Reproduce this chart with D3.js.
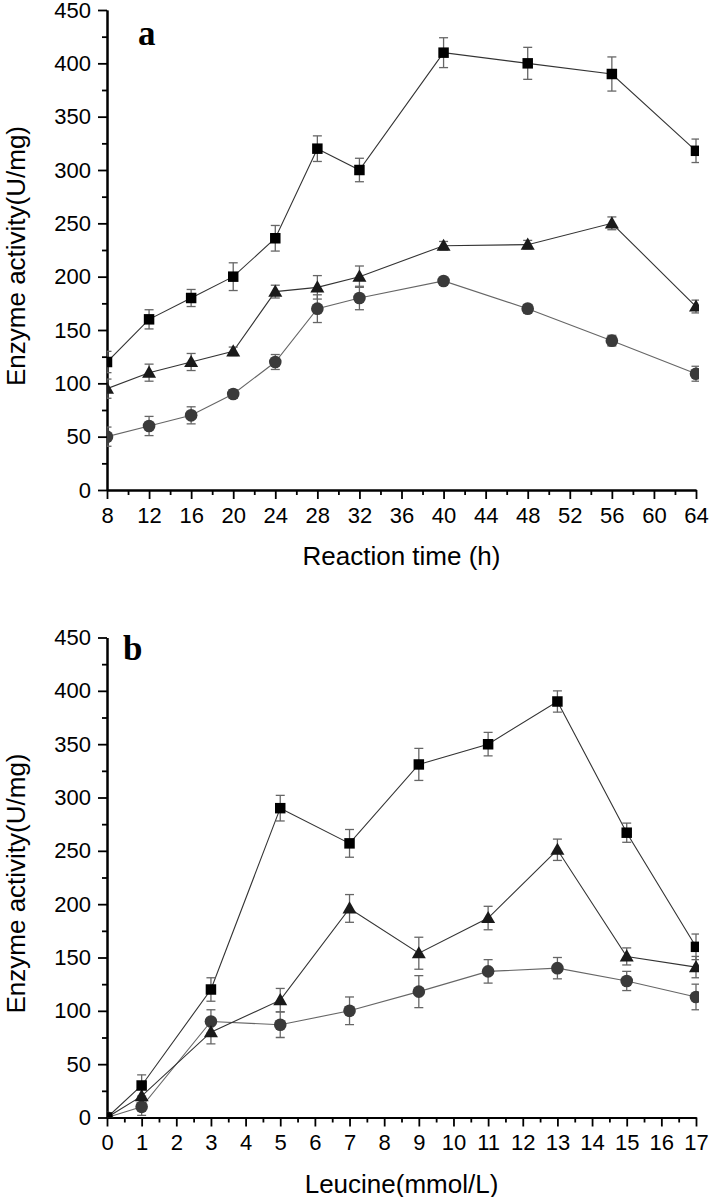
<!DOCTYPE html>
<html>
<head>
<meta charset="utf-8">
<script src="https://cdn.jsdelivr.net/npm/d3@7"></script>
<style>
  html, body { margin: 0; padding: 0; background: #fff; }
  svg { display: block; }
</style>
</head>
<body>
<svg id="chart" width="709" height="1197"></svg>
<script>
// ---------- Data ----------
// Panel a: reaction time (h)
const timeA = [8, 12, 16, 20, 24, 28, 32, 40, 48, 56, 64];
const squareA = [120, 160, 180, 200, 236, 320, 300, 410, 400, 390, 318];
const squareAErr = [10, 9, 8, 13, 12, 12, 11, 14, 15, 16, 11];
const triangleA = [95, 110, 120, 130, 186, 190, 200, 229, 230, 250, 172];
const triangleAErr = [9, 8, 8, 4, 6, 11, 10, 4, 4, 6, 6];
const circleA = [50, 60, 70, 90, 120, 170, 180, 196, 170, 140, 109];
const circleAErr = [9, 9, 8, 4, 7, 13, 11, 3, 4, 5, 7];
const ticksXA = [8, 12, 16, 20, 24, 28, 32, 36, 40, 44, 48, 52, 56, 60, 64];

// Panel b: leucine (mmol/L)
const leucineB = [0, 1, 3, 5, 7, 9, 11, 13, 15, 17];
const squareB = [0, 30, 120, 290, 257, 331, 350, 390, 267, 160];
const squareBErr = [0, 10, 11, 12, 13, 15, 11, 10, 9, 12];
const triangleB = [0, 20, 80, 110, 196, 154, 187, 251, 151, 141];
const triangleBErr = [0, 8, 11, 11, 13, 15, 11, 10, 8, 10];
const circleB = [0, 10, 90, 87, 100, 118, 137, 140, 128, 113];
const circleBErr = [0, 8, 11, 12, 13, 15, 11, 10, 9, 12];
const ticksXB = [0, 1, 2, 3, 4, 5, 6, 7, 8, 9, 10, 11, 12, 13, 14, 15, 16, 17];

const ticksY = [0, 50, 100, 150, 200, 250, 300, 350, 400, 450];
const yTitle = "Enzyme activity(U/mg)";

// ---------- Drawing ----------
const svg = d3.select("#chart");
const FONT = "'Liberation Sans', Arial, sans-serif";

function drawPanel(cfg) {
  const g = svg.append("g");
  const x = d3.scaleLinear().domain(cfg.xDomain).range([107, 696]);
  const y = d3.scaleLinear().domain([0, 450]).range([cfg.y0, cfg.y0 - 480]);

  const clipId = "clip-" + cfg.label;
  svg.append("clipPath").attr("id", clipId)
    .append("rect")
    .attr("x", x(cfg.xDomain[0]))
    .attr("y", y(450) - 20)
    .attr("width", 699 - x(cfg.xDomain[0]))
    .attr("height", y(0) - y(450) + 20);

  // Axes
  const minorY = d3.range(25, 450, 50);
  const yMinor = g.append("g").attr("transform", `translate(${x(cfg.xDomain[0])},0)`)
    .call(d3.axisLeft(y).tickValues(minorY).tickSize(5).tickSizeOuter(0).tickFormat(""));
  const yMajor = g.append("g").attr("transform", `translate(${x(cfg.xDomain[0])},0)`)
    .call(d3.axisLeft(y).tickValues(ticksY).tickSize(9).tickSizeOuter(0).tickPadding(7));

  const xMinor = g.append("g").attr("transform", `translate(0,${y(0)})`)
    .call(d3.axisBottom(x).tickValues(cfg.minorX).tickSize(5).tickSizeOuter(0).tickFormat(""));
  const xMajor = g.append("g").attr("transform", `translate(0,${y(0)})`)
    .call(d3.axisBottom(x).tickValues(cfg.ticksX).tickSize(9).tickSizeOuter(0).tickPadding(8));

  [yMinor, yMajor, xMinor, xMajor].forEach(a => {
    a.select(".domain").attr("stroke", "#000").attr("stroke-width", 2);
    a.selectAll(".tick line").attr("stroke", "#000").attr("stroke-width", 1.8);
    a.selectAll("text").attr("font-family", FONT).attr("font-size", 22).attr("fill", "#000");
  });

  // Titles
  g.append("text")
    .attr("x", 401.5).attr("y", y(0) + 75)
    .attr("text-anchor", "middle")
    .attr("font-family", FONT).attr("font-size", 26).attr("fill", "#000")
    .text(cfg.xTitle);
  g.append("text")
    .attr("transform", `translate(25,${y(225) + 6}) rotate(-90)`)
    .attr("text-anchor", "middle")
    .attr("font-family", FONT).attr("font-size", 26).attr("fill", "#000")
    .text(yTitle);

  // Panel label
  g.append("text")
    .attr("x", cfg.labelX).attr("y", y(450) + cfg.labelDy)
    .attr("font-family", "'Liberation Serif', 'Times New Roman', serif")
    .attr("font-weight", "bold").attr("font-size", 35).attr("fill", "#000")
    .text(cfg.label);

  // Data
  const data = g.append("g").attr("clip-path", `url(#${clipId})`);
  cfg.series.forEach(s => {
    const pts = cfg.xs.map((xv, i) => ({ x: xv, v: s.values[i], e: s.errs[i] }));
    data.append("path")
      .datum(pts)
      .attr("fill", "none")
      .attr("stroke", s.line)
      .attr("stroke-width", 1.1)
      .attr("d", d3.line().x(d => x(d.x)).y(d => y(d.v)));
  });
  cfg.series.forEach(s => {
    const pts = cfg.xs.map((xv, i) => ({ x: xv, v: s.values[i], e: s.errs[i] }));
    const eb = data.append("g").attr("stroke", "#666").attr("stroke-width", 1.3);
    pts.filter(d => d.e > 0).forEach(d => {
      const cx = x(d.x), t = y(d.v + d.e), b = y(d.v - d.e);
      eb.append("line").attr("x1", cx).attr("x2", cx).attr("y1", t).attr("y2", b);
      eb.append("line").attr("x1", cx - 4.5).attr("x2", cx + 4.5).attr("y1", t).attr("y2", t);
      eb.append("line").attr("x1", cx - 4.5).attr("x2", cx + 4.5).attr("y1", b).attr("y2", b);
    });
  });
  cfg.series.forEach(s => {
    const pts = cfg.xs.map((xv, i) => ({ x: xv, v: s.values[i] }));
    data.append("g").selectAll("path").data(pts).join("path")
      .attr("transform", d => `translate(${x(d.x)},${y(d.v) + (s.shape === d3.symbolTriangle ? 1 : 0)})`)
      .attr("d", d3.symbol().type(s.shape).size(s.size))
      .attr("fill", s.fill);
  });
}

drawPanel({
  label: "a", labelX: 138, labelDy: 35,
  y0: 490,
  xDomain: [8, 64],
  xs: timeA,
  ticksX: ticksXA,
  minorX: d3.range(10, 64, 4),
  xTitle: "Reaction time (h)",
  series: [
    { values: circleA, errs: circleAErr, shape: d3.symbolCircle, size: 125, fill: "#3a3a3a", line: "#666" },
    { values: triangleA, errs: triangleAErr, shape: d3.symbolTriangle, size: 85, fill: "#1a1a1a", line: "#333" },
    { values: squareA, errs: squareAErr, shape: d3.symbolSquare, size: 110, fill: "#000", line: "#333" }
  ]
});

drawPanel({
  label: "b", labelX: 123, labelDy: 22,
  y0: 1117.5,
  xDomain: [0, 17],
  xs: leucineB,
  ticksX: ticksXB,
  minorX: d3.range(0.5, 17, 1),
  xTitle: "Leucine(mmol/L)",
  series: [
    { values: circleB, errs: circleBErr, shape: d3.symbolCircle, size: 125, fill: "#3a3a3a", line: "#666" },
    { values: triangleB, errs: triangleBErr, shape: d3.symbolTriangle, size: 85, fill: "#1a1a1a", line: "#333" },
    { values: squareB, errs: squareBErr, shape: d3.symbolSquare, size: 110, fill: "#000", line: "#333" }
  ]
});
</script>
</body>
</html>
